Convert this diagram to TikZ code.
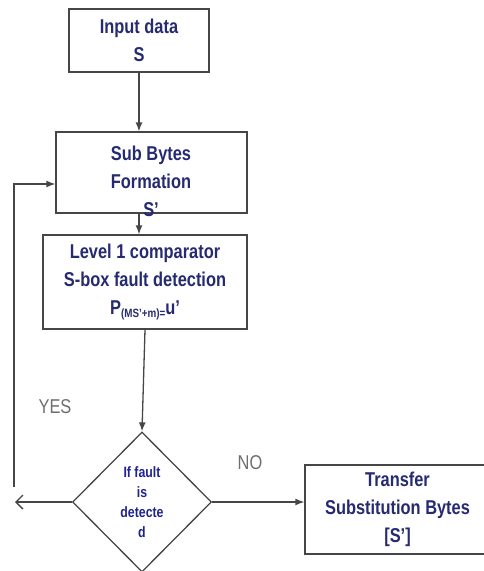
\documentclass[tikz,border=0pt]{standalone}
\usepackage{fontspec}
\setmainfont[FakeStretch=0.82]{Liberation Sans}
\usetikzlibrary{shapes.geometric,arrows.meta}
\definecolor{navytext}{RGB}{38,42,112}
\definecolor{linegray}{RGB}{70,70,70}
\definecolor{labelgray}{RGB}{110,110,110}

\begin{document}
\begin{tikzpicture}[x=1pt,y=-1pt,
  blk/.style={draw=linegray, line width=1.3pt, fill=white, text=navytext,
    font=\fontsize{20}{28}\selectfont\bfseries, align=center, inner sep=0pt},
  blktxt/.style={text=navytext, font=\fontsize{20}{28}\selectfont\bfseries,
    align=center, inner sep=0pt},
  decide/.style={draw=linegray, line width=1.3pt, shape=diamond, text=navytext!80!blue,
    font=\fontsize{15}{20}\selectfont\bfseries, align=center, inner sep=0pt},
  lbl/.style={text=labelgray, font=\fontsize{20}{24}\selectfont},
  flow/.style={draw=linegray, line width=1.3pt, -{Latex[length=9pt,width=7pt]}}]

\useasboundingbox (0,0) rectangle (484,571);

% Boxes of the flow
\node[blk, minimum width=140pt, minimum height=63pt] (inp) at (139,40.5)
  {Input data\\S};
\node[blk, minimum width=191pt, minimum height=81pt] (sub) at (151.5,172.5) {};
\node[blktxt] (subtxt) at (151,181) {Sub Bytes\\Formation\\S’};
\node[blk, minimum width=204pt, minimum height=94pt] (lev) at (145,282)
  {Level 1 comparator\\S-box fault detection\\
   P{\fontsize{12}{12}\selectfont\raisebox{-0.5ex}{(MS’+m)=}}u’};
\node[decide, minimum width=139pt, minimum height=140pt] (dia) at (142,502)
  {If fault\\is\\detecte\\d};
\node[blk, minimum width=185pt, minimum height=89pt] (tr) at (397.5,509.5)
  {Transfer\\Substitution Bytes\\{[S’]}};

% Labels of the decision
\node[lbl] (yes) at (55,407) {YES};
\node[lbl] (no) at (250,463) {NO};

% Connectors
\draw[flow] (inp.south) -- (inp.south |- sub.north);
\draw[flow] (sub.south -| inp.south) -- (inp.south |- lev.north);
\draw[flow] (lev.south) -- (dia.north);
\draw[flow] (dia.east) -- (dia.east -| tr.west);

% Loop back when a fault is found
\coordinate (loopend) at (15,502);
\coordinate (loopstart) at (14,487);
\coordinate (looptop) at (14,184);
\draw[draw=linegray, line width=1.3pt, -{Straight Barb[length=7pt,width=14pt]}]
  (dia.west) -- (loopend);
\draw[flow] (loopstart) -- (looptop) -- (looptop -| sub.west);

\end{tikzpicture}
\end{document}
